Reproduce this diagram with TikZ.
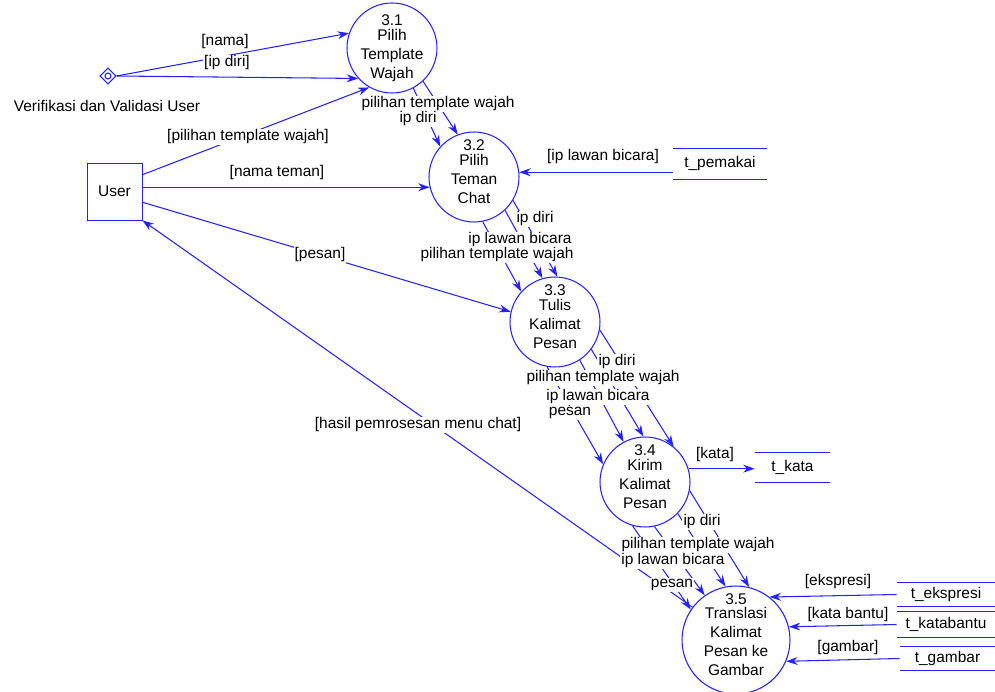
\documentclass[tikz,border=0pt]{standalone}
\usepackage{fontspec}
\setmainfont{Liberation Sans}
\usetikzlibrary{shapes.geometric, arrows.meta, calc}
\definecolor{dfdblue}{RGB}{35,35,255}

\tikzset{
  line/.style={draw=dfdblue, line width=0.6pt},
  flow/.style={line, -{Stealth[length=6.5pt,width=4.5pt]}},
  proc/.style={line, circle, minimum size=1.8cm, inner sep=0pt},
  txt/.style={align=center, yshift=3pt},
  lbl/.style={fill=white, inner sep=0.6pt},
  store/.style={minimum height=0.6cm, inner sep=0pt},
}

\begin{document}
\begin{tikzpicture}[x=0.02cm, y=-0.02cm, every node/.style={font=\fontsize{8.8}{10.8}\selectfont}]
  \useasboundingbox (0,0) rectangle (995,692);

  \node[proc, label={[txt, yshift=-3pt]center:{3.1\\[-2.5pt]Pilih\\Template\\Wajah}}] (p31) at (392,48) {};
  \node[proc, label={[txt]center:{3.2\\[-2.5pt]Pilih\\Teman\\Chat}}] (p32) at (474,177) {};
  \node[proc, label={[txt]center:{3.3\\[-2.5pt]Tulis\\Kalimat\\Pesan}}] (p33) at (555,322) {};
  \node[proc, label={[txt]center:{3.4\\[-2.5pt]Kirim\\Kalimat\\Pesan}}] (p34) at (645,482) {};
  \node[proc, minimum size=2.16cm, label={[txt]center:{3.5\\[-2.5pt]Translasi\\Kalimat\\Pesan ke\\Gambar}}] (p35) at (736,640) {};

  \node[line, line width=0.5pt, minimum width=1.1cm, minimum height=1.14cm] (user) at (114.5,191.5) {User};
  \node[line, diamond, minimum size=0.32cm, inner sep=0pt] (vu) at (108,76) {};
  \draw[line] (vu.center) circle (0.06cm);
  \node (lvu) at (107,106) {Verifikasi dan Validasi User};

  \node[store, minimum width=1.88cm] (tpemakai) at (720,164) {t\_pemakai};
  \node[store, minimum width=1.5cm, minimum height=0.58cm] (tkata) at (792.5,467.5) {t\_kata};
  \node[store, minimum width=1.96cm, minimum height=0.46cm] (tekspresi) at (946,594.5) {t\_ekspresi};
  \node[store, minimum width=1.96cm, minimum height=0.5cm] (tkatabantu) at (946,624.5) {t\_katabantu};
  \node[store, minimum width=1.9cm, minimum height=0.46cm] (tgambar) at (947.5,658.5) {t\_gambar};
  \foreach \s in {tpemakai,tkata,tekspresi,tkatabantu,tgambar}
    \draw[line] (\s.north west) -- (\s.north east) (\s.south west) -- (\s.south east);

  \draw[flow] (vu.east) -- (p31.161);
  \draw[flow] (vu.east) -- (p31.222);
  \draw[flow] (user.31) -- (p31.240);
  \draw[flow] (user.east |- p32.193) -- (p32.193);
  \draw[flow] (user.339) -- (p33.167);
  \draw[flow] (p35.143) -- (user.south east);
  \draw[flow] (tpemakai.west |- p32.6) -- (p32.6);

  \draw[flow] (p31.313) -- (p32.111);
  \draw[flow] (p31.298) -- (p32.138);

  \draw[flow] (p32.281) -- (p33.138);
  \draw[flow] (p32.313) -- (p33.106);
  \draw[flow] (p32.329) -- (p33.87);

  \draw[flow] (p33.260) -- (p34.157);
  \draw[flow] (p33.303) -- (p34.118);
  \draw[flow] (p33.323) -- (p34.92);
  \draw[flow] (p33.350) -- (p34.51);
  \draw[flow] (p34.17) -- (p34.17 -| tkata.west);

  \draw[flow] (p34.254) -- (p35.146);
  \draw[flow] (p34.282) -- (p35.125);
  \draw[flow] (p34.316) -- (p35.101);
  \draw[flow] (p34.349) -- (p35.76);

  \draw[flow] (tekspresi.west) -- (p35.52);
  \draw[flow] (tkatabantu.west) -- (p35.14);
  \draw[flow] (tgambar.west) -- (p35.337);

  \node[lbl] (l1) at (225,42) {[nama]};
  \node[lbl] (l2) at (227,63) {[ip diri]};
  \node[lbl] (l3) at (248,137) {[pilihan template wajah]};
  \node[lbl] (l4) at (277,173) {[nama teman]};
  \node[lbl] (l5) at (320,255) {[pesan]};
  \node[lbl] (l6) at (418,425) {[hasil pemrosesan menu chat]};
  \node[lbl] (l7) at (603,157) {[ip lawan bicara]};
  \node[lbl] (l8) at (438,104) {pilihan template wajah};
  \node[lbl] (l9) at (418,119) {ip diri};
  \node[lbl] (l10) at (535,219) {ip diri};
  \node[lbl] (l11) at (520,240) {ip lawan bicara};
  \node[lbl] (l12) at (497,255) {pilihan template wajah};
  \node[lbl] (l13) at (617,362) {ip diri};
  \node[lbl] (l14) at (603,378) {pilihan template wajah};
  \node[lbl] (l15) at (598,397) {ip lawan bicara};
  \node[lbl] (l16) at (570,413) {pesan};
  \node[lbl] (l17) at (715,455) {[kata]};
  \node[lbl] (l18) at (702,522) {ip diri};
  \node[lbl] (l19) at (698,545) {pilihan template wajah};
  \node[lbl] (l20) at (673,561) {ip lawan bicara};
  \node[lbl] (l21) at (672,585) {pesan};
  \node[lbl] (l22) at (838,582) {[ekspresi]};
  \node[lbl] (l23) at (848,615) {[kata bantu]};
  \node[lbl] (l24) at (848,648) {[gambar]};
\end{tikzpicture}
\end{document}
